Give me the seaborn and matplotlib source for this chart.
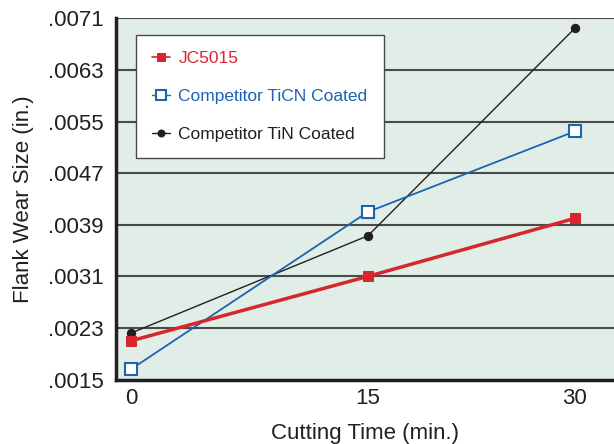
import numpy as np
import pandas as pd
import matplotlib
matplotlib.use('Agg')
import matplotlib.pyplot as plt
import seaborn as sns

# valeurs
temps = [0, 15, 30]
jc5015 = [0.0021, 0.0031, 0.0040]
ticn = [0.00166, 0.0041, 0.00535]
tin = [0.00222, 0.00373, 0.00695]
y_ticks = [0.0015, 0.0023, 0.0031, 0.0039, 0.0047, 0.0055, 0.0063, 0.0071]
y_labels = ['.0015', '.0023', '.0031', '.0039', '.0047', '.0055', '.0063', '.0071']

sns.set_style('white')
plt.rcParams['font.family'] = ['Liberation Sans', 'DejaVu Sans']

df = pd.DataFrame({'temps': temps, 'JC5015': jc5015, 'TiCN': ticn, 'TiN': tin})


# echelle de l'axe x pas reguliere dans l'original
def fwd(x):
    x = np.asarray(x, dtype=float)
    return np.where(x <= 15, x * 237 / 15, 237 + (x - 15) * 207 / 15)


def inv(p):
    p = np.asarray(p, dtype=float)
    return np.where(p <= 237, p * 15 / 237, 15 + (p - 237) * 15 / 207)


fig = plt.figure(figsize=(6.14, 4.44), dpi=100)
ax = fig.add_axes([116 / 614, 1 - 379.5 / 444, 1 - 116 / 614, 361 / 444])
ax.set_facecolor('#e0eee7')
ax.set_xscale('function', functions=(fwd, inv))

rouge = '#d7262e'
bleu = '#1c63b4'
noir = '#231f20'

sns.lineplot(data=df, x='temps', y='TiN', ax=ax, color=noir, linewidth=1.0,
             marker='o', markersize=6, markeredgecolor=noir, label='Competitor TiN Coated', zorder=4)
sns.lineplot(data=df, x='temps', y='TiCN', ax=ax, color=bleu, linewidth=1.3,
             marker='s', markersize=8, markerfacecolor='white', markeredgecolor=bleu,
             markeredgewidth=1.5, label='Competitor TiCN Coated', zorder=5)
sns.lineplot(data=df, x='temps', y='JC5015', ax=ax, color=rouge, linewidth=2.5,
             marker='s', markersize=7, markeredgecolor=rouge, label='JC5015', zorder=6)

ax.set_xlim(-0.95, 32.83)
ax.set_ylim(0.0015, 0.0071)
ax.set_xticks(temps)
ax.set_xticklabels(['0', '15', '30'])
ax.set_yticks(y_ticks)
ax.set_yticklabels(y_labels)
ax.tick_params(axis='both', labelsize=16, length=0, colors='#231f20')
ax.tick_params(axis='x', pad=6)
ax.tick_params(axis='y', pad=9)
for t in y_ticks[1:]:
    ax.axhline(t, color='#4a4a4a', linewidth=1.5, zorder=1)

ax.spines['left'].set_linewidth(2.5)
ax.spines['bottom'].set_linewidth(2.5)
ax.spines['left'].set_color('#231f20')
ax.spines['bottom'].set_color('#231f20')
ax.spines['right'].set_visible(False)
ax.spines['top'].set_visible(False)

ax.set_xlabel('Cutting Time (min.)', fontsize=16, color='#231f20', labelpad=10)
ax.set_ylabel('Flank Wear Size (in.)', fontsize=16, color='#231f20', labelpad=10)

handles, labels = ax.get_legend_handles_labels()
ordre = [2, 1, 0]
leg = ax.legend([handles[i] for i in ordre], [labels[i] for i in ordre],
                loc='upper left', bbox_to_anchor=(0.04, 0.955), borderaxespad=0,
                fontsize=12.5, frameon=True, fancybox=False, framealpha=1,
                edgecolor='#4a4a4a', handlelength=1.0, handletextpad=0.5,
                labelspacing=1.3, borderpad=0.95)
leg.get_frame().set_linewidth(1.0)
for texte, c in zip(leg.get_texts(), [rouge, bleu, noir]):
    texte.set_color(c)
for h, ms, lw in zip(leg.legend_handles, [5.5, 6.5, 5], [1.2, 1.0, 1.0]):
    h.set_markersize(ms)
    h.set_linewidth(lw)

plt.savefig('out.png', dpi=100)
